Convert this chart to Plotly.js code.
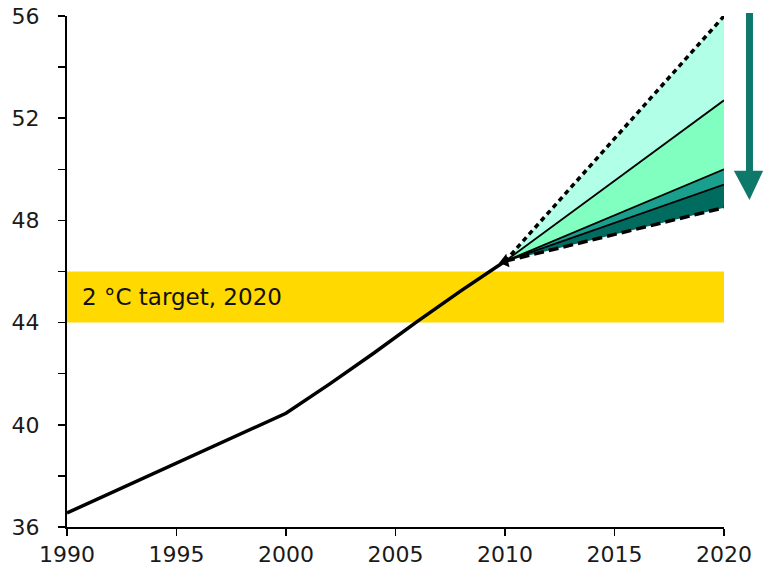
<!DOCTYPE html>
<html>
<head>
<meta charset="utf-8">
<script src="https://cdn.plot.ly/plotly-3.0.1.min.js"></script>
<style>html,body{margin:0;padding:0;background:#fff;}#chart{width:763px;height:567px;}</style>
</head>
<body>
<div id="chart"></div>
<script>
// Historical emissions
const histYears = [1990, 2000, 2002, 2004, 2006, 2008, 2010];
const histValues = [36.55, 40.45, 41.6, 42.8, 44.05, 45.25, 46.4];

// Projection fan (2010 -> 2020)
const projYears = [2010, 2020];
const projLowDashed = [46.4, 48.5];
const projDarkTop = [46.4, 49.4];
const projTealTop = [46.4, 50.0];
const projGreenTop = [46.4, 52.7];
const projHighDotted = [46.4, 56.0];

// 2 °C target band
const targetLow = 44;
const targetHigh = 46;
const targetLabel = "2 °C target, 2020";

// Ticks
const xTickVals = [1990, 1995, 2000, 2005, 2010, 2015, 2020];
const yTickVals = [36, 38, 40, 42, 44, 46, 48, 50, 52, 54, 56];
const yTickText = ["36", "", "40", "", "44", "", "48", "", "52", "", "56"];

const cMint = "#B2FFE8", cGreen = "#80FFC0", cTeal = "#1A9E8E", cDark = "#006B5F", cArrow = "#0E786B";

const fillBase = {x: projYears, mode: "lines", line: {width: 0}, hoverinfo: "skip", showlegend: false};
const traces = [
  Object.assign({}, fillBase, {y: projLowDashed}),
  Object.assign({}, fillBase, {y: projDarkTop, fill: "tonexty", fillcolor: cDark}),
  Object.assign({}, fillBase, {y: projTealTop, fill: "tonexty", fillcolor: cTeal}),
  Object.assign({}, fillBase, {y: projGreenTop, fill: "tonexty", fillcolor: cGreen}),
  Object.assign({}, fillBase, {y: projHighDotted, fill: "tonexty", fillcolor: cMint}),
  {x: histYears, y: histValues, mode: "lines", line: {color: "#000", width: 3.5}, showlegend: false},
  {x: projYears, y: projDarkTop, mode: "lines", line: {color: "#000", width: 1.8}, showlegend: false},
  {x: projYears, y: projTealTop, mode: "lines", line: {color: "#000", width: 1.8}, showlegend: false},
  {x: projYears, y: projGreenTop, mode: "lines", line: {color: "#000", width: 1.8}, showlegend: false},
  {x: projYears, y: projHighDotted, mode: "lines", line: {color: "#000", width: 3.5, dash: "5px,4px"}, showlegend: false},
  {x: projYears, y: projLowDashed, mode: "lines", line: {color: "#000", width: 3.5, dash: "10px,5px"}, showlegend: false},
  {x: [projYears[0]], y: [projLowDashed[0]], mode: "markers", marker: {symbol: "triangle-left", size: 12, color: "#000", angle: -14}, showlegend: false}
];

const layout = {
  width: 763, height: 567,
  margin: {l: 67, r: 39, t: 16, b: 40},
  paper_bgcolor: "#fff", plot_bgcolor: "#fff",
  font: {family: "DejaVu Sans, Verdana, sans-serif", size: 22, color: "#1a1a1a"},
  xaxis: {
    range: [1990, 2020], tickvals: xTickVals, ticks: "outside", ticklen: 7, tickwidth: 1.5, tickcolor: "#000",
    showline: true, linecolor: "#000", linewidth: 2, showgrid: false, zeroline: false, fixedrange: true
  },
  yaxis: {
    range: [36, 56], tickvals: yTickVals, ticktext: yTickText, ticks: "outside", ticklen: 7, tickwidth: 1.5, tickcolor: "#000",
    showline: true, linecolor: "#000", linewidth: 2, showgrid: false, zeroline: false, fixedrange: true,
    ticklabelstandoff: 14
  },
  shapes: [
    {type: "rect", xref: "x", yref: "y", x0: 1990, x1: 2020, y0: targetLow, y1: targetHigh, fillcolor: "#FFD900", line: {width: 0}, layer: "below"},
    {type: "rect", xref: "paper", yref: "paper", x0: 1.0335, x1: 1.0441, y0: 0.689, y1: 1.006, fillcolor: cArrow, line: {width: 0}},
    {type: "path", xref: "paper", yref: "paper", path: "M 1.015 0.697 L 1.0594 0.697 L 1.0388 0.640 Z", fillcolor: cArrow, line: {width: 0}}
  ],
  annotations: [
    {xref: "x", yref: "y", x: 1990.6, y: (targetLow + targetHigh) / 2, text: targetLabel, showarrow: false, xanchor: "left", yanchor: "middle",
     font: {family: "DejaVu Sans, Verdana, sans-serif", size: 23, color: "#111"}}
  ]
};

Plotly.newPlot("chart", traces, layout, {displayModeBar: false, staticPlot: true});
</script>
</body>
</html>
